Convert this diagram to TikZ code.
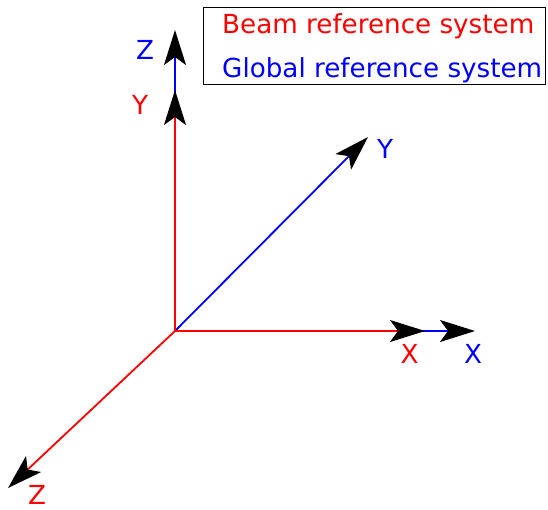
\documentclass[tikz,border=0pt]{standalone}
\usepackage{fontspec}
\setmainfont{DejaVu Sans}
\usetikzlibrary{arrows.meta}
\definecolor{axred}{RGB}{255,0,0}
\definecolor{axblue}{RGB}{0,0,255}
\begin{document}
\begin{tikzpicture}[x=1pt,y=-1pt,
  axis/.style={line width=1.8pt,-{Stealth[length=35pt,width=22pt,inset=8pt,black]}},
  lbl/.style={font=\fontsize{26.2pt}{30pt}\selectfont,inner sep=0pt},
  legendbox/.style={draw=black,line width=1.8pt}]
\useasboundingbox (0,0) rectangle (548,509);
\coordinate (O) at (175,331);
\coordinate (gz) at (175,30);
\coordinate (gx) at (475,331);
\coordinate (gy) at (368,137);
\coordinate (by) at (175,90);
\coordinate (bx) at (425,331);
\coordinate (bz) at (8,488);
% global (blue)
\draw[axis,axblue] (O) -- (gz);
\draw[axis,axblue] (O) -- (gx);
\draw[axis,axblue] (O) -- (gy);
% beam (red)
\draw[axis,axred] (O) -- (by);
\draw[axis,axred] (O) -- (bx);
\draw[axis,axred] (O) -- (bz);
% labels
\node[lbl,text=axblue] (lgz) at (145,49.5) {Z};
\node[lbl,text=axred] (lby) at (140,104.5) {Y};
\node[lbl,text=axred] (lbx) at (409.5,354) {X};
\node[lbl,text=axblue] (lgx) at (473,354) {X};
\node[lbl,text=axred] (lbz) at (37,494.5) {Z};
\node[lbl,text=axblue] (lgy) at (385,148.5) {Y};
% legend
\draw[legendbox] (203.5,7.5) rectangle (545.5,84.5);
\node[lbl,text=axred,anchor=base west] (leg1) at (222,33) {Beam reference system};
\node[lbl,text=axblue,anchor=base west] (leg2) at (222,77) {Global reference system};
\end{tikzpicture}
\end{document}
